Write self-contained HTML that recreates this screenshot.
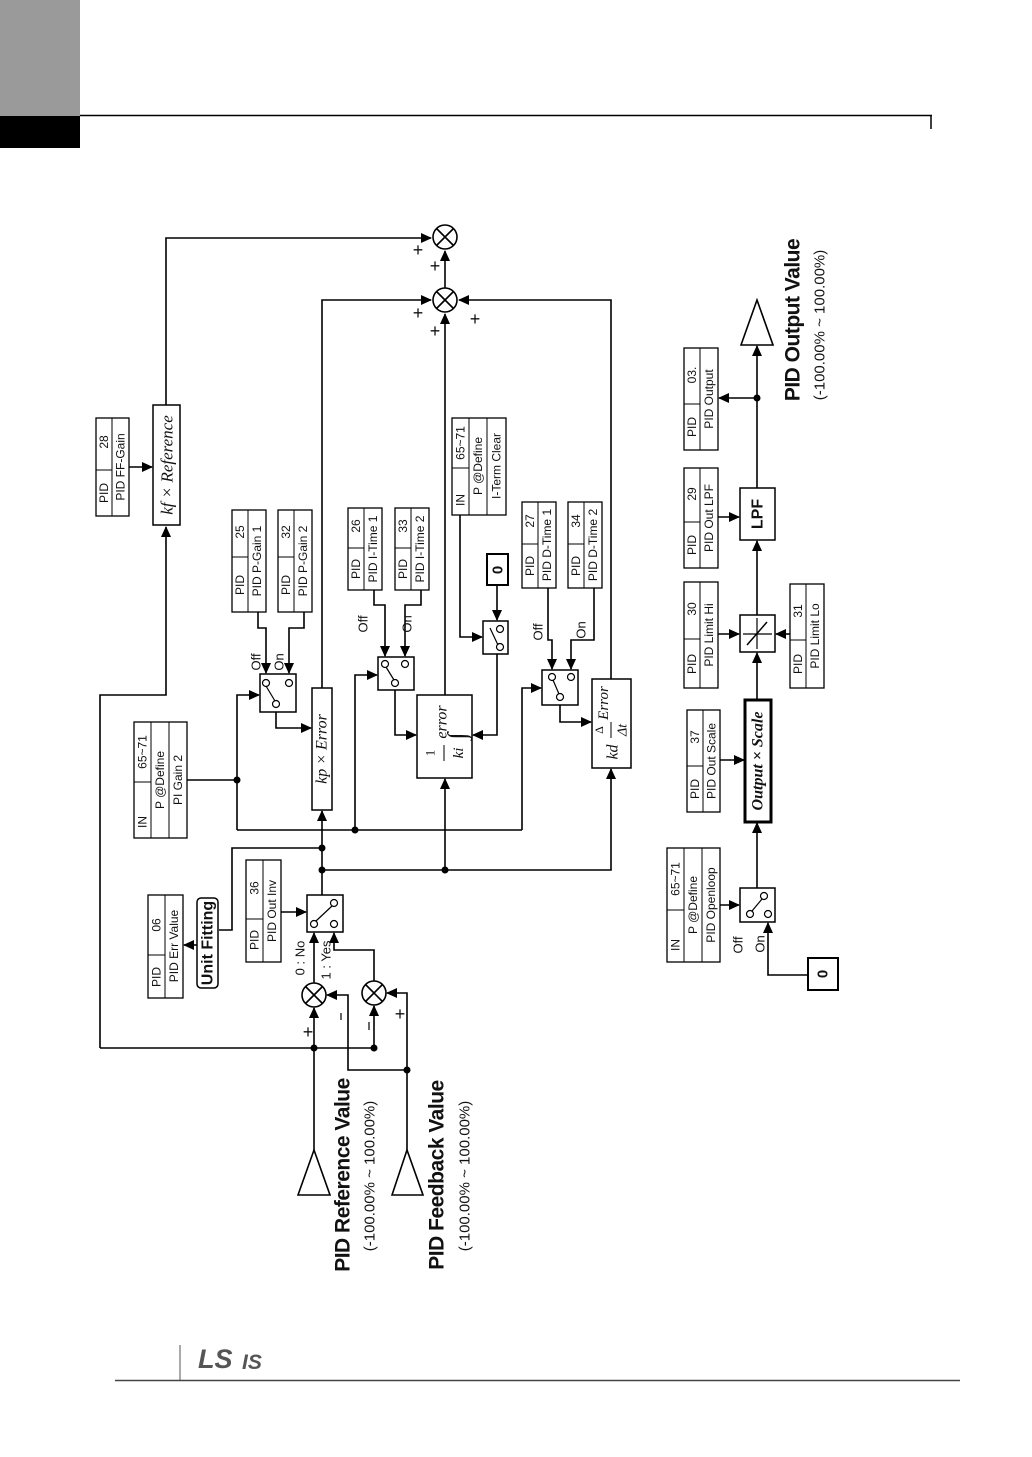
<!DOCTYPE html>
<html><head><meta charset="utf-8"><style>
html,body{margin:0;padding:0;background:#fff}
svg{display:block}
text{font-family:"Liberation Sans Narrow","Liberation Sans",sans-serif;fill:#111}
.s text{font-family:"Liberation Serif",serif;font-style:italic}
.w text{font-family:"Liberation Sans",sans-serif}
</style></head><body>
<svg width="1032" height="1457" viewBox="0 0 1032 1457" xmlns="http://www.w3.org/2000/svg">
<defs>
<marker id="a" markerUnits="userSpaceOnUse" markerWidth="11" markerHeight="10" refX="10" refY="5" orient="auto"><path d="M0,0 L11,5 L0,10 z" fill="#000"/></marker>
</defs>
<rect x="0" y="0" width="80" height="116" fill="#9a9a9a"/>
<rect x="0" y="116" width="80" height="32" fill="#000"/>
<line x1="80" y1="115.5" x2="932" y2="115.5" stroke="#000" stroke-width="1.5"/>
<line x1="931" y1="115" x2="931" y2="129" stroke="#000" stroke-width="1.5"/>
<line x1="180" y1="1345" x2="180" y2="1380" stroke="#555" stroke-width="1"/>
<line x1="115" y1="1380.5" x2="960" y2="1380.5" stroke="#444" stroke-width="1.5"/>
<g class="w">
<text x="198" y="1368" style="font-weight:bold;font-style:italic;font-size:27px;fill:#555">LS</text>
<text x="242" y="1369" style="font-weight:bold;font-style:italic;font-size:21px;fill:#555">IS</text>
</g>

<g fill="none" stroke="#000" stroke-width="1.6">
<circle cx="445" cy="237" r="12"/><path d="M437,229 L453,245 M453,229 L437,245"/>
<circle cx="445" cy="300" r="12"/><path d="M437,292 L453,308 M453,292 L437,308"/>
<path d="M445,288 L445,251" marker-end="url(#a)"/>
<path d="M100,1048 L100,695 L166,695 L166,527" marker-end="url(#a)"/>
<path d="M166,405 L166,238 L431,238" marker-end="url(#a)"/>
<path d="M129,467 L152,467" marker-end="url(#a)"/>
<path d="M322,688 L322,300 L431,300" marker-end="url(#a)"/>
<path d="M445,695 L445,314" marker-end="url(#a)"/>
<path d="M611,679 L611,300 L459,300" marker-end="url(#a)"/>
<path d="M187,780 L237,780"/>
<path d="M237,830 L237,695 L259,695" marker-end="url(#a)"/>
<path d="M237,830 L522,830"/>
<path d="M355,830 L355,675 L377,675" marker-end="url(#a)"/>
<path d="M522,830 L522,688 L541,688" marker-end="url(#a)"/>
<path d="M258,612 L258,628 L266,628 L266,673" marker-end="url(#a)"/>
<path d="M304,612 L304,628 L289,628 L289,673" marker-end="url(#a)"/>
<path d="M276,712 L276,728 L311,728" marker-end="url(#a)"/>
<path d="M374,590 L374,605 L385,605 L385,656" marker-end="url(#a)"/>
<path d="M421,590 L421,605 L405,605 L405,656" marker-end="url(#a)"/>
<path d="M395,690 L395,735 L416,735" marker-end="url(#a)"/>
<path d="M460,515 L460,637 L482,637" marker-end="url(#a)"/>
<path d="M497,585 L497,620" marker-end="url(#a)"/>
<path d="M497,654 L497,735 L473,735" marker-end="url(#a)"/>
<path d="M548,588 L548,640 L552,640 L552,669" marker-end="url(#a)"/>
<path d="M594,588 L594,640 L571,640 L571,669" marker-end="url(#a)"/>
<path d="M560,705 L560,722 L591,722" marker-end="url(#a)"/>
<path d="M322,895 L322,811" marker-end="url(#a)"/>
<path d="M322,848 L232,848 L232,930 L219,930"/>
<path d="M197,945 L184,945" marker-end="url(#a)"/>
<path d="M322,870 L611,870 L611,769" marker-end="url(#a)"/>
<path d="M445,870 L445,779" marker-end="url(#a)"/>
<path d="M281,912 L306,912" marker-end="url(#a)"/>
<circle cx="314" cy="995" r="12"/><path d="M306,987 L322,1003 M322,987 L306,1003"/>
<circle cx="374" cy="993" r="12"/><path d="M366,985 L382,1001 M382,985 L366,1001"/>
<path d="M314,983 L314,933" marker-end="url(#a)"/>
<path d="M374,981 L374,950 L334,950 L334,933" marker-end="url(#a)"/>
<path d="M314,1150 L314,1008" marker-end="url(#a)"/>
<path d="M100,1048 L374,1048 L374,1006" marker-end="url(#a)"/>
<path d="M407,1150 L407,993 L387,993" marker-end="url(#a)"/>
<path d="M407,1070 L348,1070 L348,995 L327,995" marker-end="url(#a)"/>
<path d="M298,1195 L314,1150 L330,1195 z"/>
<path d="M392,1195 L407,1150 L423,1195 z"/>
<path d="M808,975 L768,975 L768,923" marker-end="url(#a)"/>
<path d="M720,905 L739,905" marker-end="url(#a)"/>
<path d="M757,888 L757,823" marker-end="url(#a)"/>
<path d="M720,760 L744,760" marker-end="url(#a)"/>
<path d="M757,700 L757,653" marker-end="url(#a)"/>
<path d="M718,634 L739,634" marker-end="url(#a)"/>
<path d="M790,634 L776,634" marker-end="url(#a)"/>
<path d="M757,615 L757,541" marker-end="url(#a)"/>
<path d="M718,517 L739,517" marker-end="url(#a)"/>
<path d="M757,488 L757,346" marker-end="url(#a)"/>
<path d="M757,398 L719,398" marker-end="url(#a)"/>
<path d="M741,345 L757,300 L773,345 z"/>
</g>
<g fill="#000">
<circle cx="237" cy="780" r="3.5"/><circle cx="355" cy="830" r="3.5"/>
<circle cx="322" cy="848" r="3.5"/><circle cx="322" cy="870" r="3.5"/><circle cx="445" cy="870" r="3.5"/>
<circle cx="314" cy="1048" r="3.5"/><circle cx="374" cy="1048" r="3.5"/><circle cx="407" cy="1070" r="3.5"/>
<circle cx="757" cy="398" r="3.5"/>
</g>

<g fill="#fff" stroke="#000" stroke-width="1.5">
<rect x="153" y="405" width="27" height="120"/>
<rect x="312" y="688" width="20" height="122"/>
<rect x="417" y="695" width="55" height="83"/>
<rect x="592" y="679" width="39" height="89"/>
<rect x="487" y="554" width="21" height="31" stroke-width="2"/>
<rect x="808" y="958" width="30" height="32" stroke-width="2"/>
<rect x="745" y="700" width="26" height="122" stroke-width="3"/>
<rect x="740" y="488" width="35" height="52"/>
<rect x="740" y="615" width="35" height="37"/>
<rect x="197" y="898" width="21" height="90" rx="4"/>
<rect x="260" y="674" width="36" height="38"/>
<rect x="378" y="657" width="36" height="33"/>
<rect x="483" y="621" width="25" height="33"/>
<rect x="542" y="670" width="36" height="35"/>
<rect x="307" y="895" width="36" height="37"/>
<rect x="740" y="888" width="35" height="34"/>
</g>
<g fill="#fff" stroke="#000" stroke-width="1.2">
<circle cx="266" cy="683" r="3.5"/><circle cx="289" cy="683" r="3.5"/><circle cx="276" cy="704" r="3.5"/>
<line x1="266" y1="686" x2="275" y2="701"/>
<circle cx="385" cy="664" r="3.5"/><circle cx="405" cy="664" r="3.5"/><circle cx="395" cy="683" r="3.5"/>
<line x1="386" y1="667" x2="394" y2="680"/>
<circle cx="500" cy="629" r="3.5"/><circle cx="500" cy="647" r="3.5"/><line x1="490" y1="628" x2="498" y2="645"/>
<circle cx="552" cy="677" r="3.5"/><circle cx="571" cy="677" r="3.5"/><circle cx="560" cy="697" r="3.5"/>
<line x1="553" y1="680" x2="559" y2="694"/>
<circle cx="334" cy="903" r="3.5"/><circle cx="314" cy="924" r="3.5"/><circle cx="334" cy="924" r="3.5"/>
<line x1="332" y1="906" x2="316" y2="921"/>
<circle cx="764" cy="896" r="3.5"/><circle cx="768" cy="914" r="3.5"/><circle cx="750" cy="914" r="3.5"/>
<line x1="752" y1="911" x2="762" y2="899"/>
<line x1="743" y1="634" x2="772" y2="634"/><line x1="757" y1="618" x2="757" y2="649"/>
<line x1="747" y1="645" x2="767" y2="622" stroke-width="1.5"/>
</g>

<g class="s" style="font-size:17px">
<text transform="translate(167,465) rotate(-90)" text-anchor="middle" dominant-baseline="central">kf × Reference</text>
<text transform="translate(322,749) rotate(-90)" text-anchor="middle" dominant-baseline="central" style="font-size:16px">kp × Error</text>
<text transform="translate(442,722) rotate(-90)" text-anchor="middle" dominant-baseline="central" style="font-size:16px">error</text>
<text transform="translate(430,753) rotate(-90)" text-anchor="middle" dominant-baseline="central" style="font-size:13px;font-style:normal">1</text>
<text transform="translate(459,753) rotate(-90)" text-anchor="middle" dominant-baseline="central" style="font-size:15px">ki</text>
<text transform="translate(457,736) rotate(-90)" text-anchor="middle" dominant-baseline="central" style="font-size:26px;font-style:normal">∫</text>
<text transform="translate(604,703) rotate(-90)" text-anchor="middle" dominant-baseline="central" style="font-size:15px">Error</text>
<text transform="translate(613,752) rotate(-90)" text-anchor="middle" dominant-baseline="central" style="font-size:16px">kd</text>
<text transform="translate(599,730) rotate(-90)" text-anchor="middle" dominant-baseline="central" style="font-size:12px;font-style:normal">Δ</text>
<text transform="translate(623,730) rotate(-90)" text-anchor="middle" dominant-baseline="central" style="font-size:14px">Δt</text>
<text transform="translate(758,761) rotate(-90)" text-anchor="middle" dominant-baseline="central" style="font-size:16px;font-weight:bold">Output × Scale</text>
</g>
<line x1="444" y1="745" x2="444" y2="761" stroke="#000"/>
<line x1="611" y1="722" x2="611" y2="738" stroke="#000"/>
<g style="font-weight:bold">
<text transform="translate(758,514) rotate(-90)" text-anchor="middle" dominant-baseline="central" style="font-size:16px">LPF</text>
<text transform="translate(208,943) rotate(-90)" text-anchor="middle" dominant-baseline="central" style="font-size:16px">Unit Fitting</text>
<text transform="translate(498,570) rotate(-90)" text-anchor="middle" dominant-baseline="central" style="font-size:15px">0</text>
<text transform="translate(823,974) rotate(-90)" text-anchor="middle" dominant-baseline="central" style="font-size:15px">0</text>
</g>

<g style="font-size:13px">
<text transform="translate(256,662) rotate(-90)" text-anchor="middle" dominant-baseline="central">Off</text>
<text transform="translate(279,662) rotate(-90)" text-anchor="middle" dominant-baseline="central">On</text>
<text transform="translate(363,624) rotate(-90)" text-anchor="middle" dominant-baseline="central">Off</text>
<text transform="translate(407,624) rotate(-90)" text-anchor="middle" dominant-baseline="central">On</text>
<text transform="translate(538,632) rotate(-90)" text-anchor="middle" dominant-baseline="central">Off</text>
<text transform="translate(581,630) rotate(-90)" text-anchor="middle" dominant-baseline="central">On</text>
<text transform="translate(738,945) rotate(-90)" text-anchor="middle" dominant-baseline="central">Off</text>
<text transform="translate(760,944) rotate(-90)" text-anchor="middle" dominant-baseline="central">On</text>
<text transform="translate(300,958) rotate(-90)" text-anchor="middle" dominant-baseline="central">0 : No</text>
<text transform="translate(326,960) rotate(-90)" text-anchor="middle" dominant-baseline="central">1 : Yes</text>
</g>
<g class="w" style="font-size:18px">
<text x="418" y="256" text-anchor="middle">+</text>
<text x="435" y="272" text-anchor="middle">+</text>
<text x="418" y="319" text-anchor="middle">+</text>
<text x="435" y="337" text-anchor="middle">+</text>
<text x="475" y="325" text-anchor="middle">+</text>
<text x="308" y="1038" text-anchor="middle">+</text>
<text x="400" y="1020" text-anchor="middle">+</text>
</g>
<g stroke="#000" stroke-width="1.2"><line x1="341" y1="1013" x2="341" y2="1020"/><line x1="369" y1="1022" x2="369" y2="1030"/></g>

<g class="w">
<text transform="translate(343,1175) rotate(-90)" text-anchor="middle" dominant-baseline="central" style="font-size:21px;font-weight:bold;letter-spacing:-0.5px">PID Reference Value</text>
<text transform="translate(370,1176) rotate(-90)" text-anchor="middle" dominant-baseline="central" style="font-size:15px">(-100.00% ~ 100.00%)</text>
<text transform="translate(437,1175) rotate(-90)" text-anchor="middle" dominant-baseline="central" style="font-size:21px;font-weight:bold;letter-spacing:-0.5px">PID Feedback Value</text>
<text transform="translate(465,1176) rotate(-90)" text-anchor="middle" dominant-baseline="central" style="font-size:15px">(-100.00% ~ 100.00%)</text>
<text transform="translate(793,320) rotate(-90)" text-anchor="middle" dominant-baseline="central" style="font-size:21px;font-weight:bold;letter-spacing:-0.5px">PID Output Value</text>
<text transform="translate(820,325) rotate(-90)" text-anchor="middle" dominant-baseline="central" style="font-size:15px">(-100.00% ~ 100.00%)</text>
</g>

<g style="font-size:12px">
<g transform="translate(96,418)"><rect width="33" height="98" fill="#fff" stroke="#000" stroke-width="1.3"/><line x1="16" y1="0" x2="16" y2="98" stroke="#000"/><line x1="0" y1="52" x2="16" y2="52" stroke="#000"/><text transform="translate(8,75) rotate(-90)" text-anchor="middle" dominant-baseline="central">PID</text><text transform="translate(8,24) rotate(-90)" text-anchor="middle" dominant-baseline="central">28</text><text transform="translate(24.5,49) rotate(-90)" text-anchor="middle" dominant-baseline="central">PID FF-Gain</text></g>
<g transform="translate(232,510)"><rect width="34" height="102" fill="#fff" stroke="#000" stroke-width="1.3"/><line x1="16" y1="0" x2="16" y2="102" stroke="#000"/><line x1="0" y1="47" x2="16" y2="47" stroke="#000"/><text transform="translate(8,75) rotate(-90)" text-anchor="middle" dominant-baseline="central">PID</text><text transform="translate(8,22) rotate(-90)" text-anchor="middle" dominant-baseline="central">25</text><text transform="translate(25,51) rotate(-90)" text-anchor="middle" dominant-baseline="central">PID P-Gain 1</text></g>
<g transform="translate(278,510)"><rect width="34" height="102" fill="#fff" stroke="#000" stroke-width="1.3"/><line x1="16" y1="0" x2="16" y2="102" stroke="#000"/><line x1="0" y1="47" x2="16" y2="47" stroke="#000"/><text transform="translate(8,75) rotate(-90)" text-anchor="middle" dominant-baseline="central">PID</text><text transform="translate(8,22) rotate(-90)" text-anchor="middle" dominant-baseline="central">32</text><text transform="translate(25,51) rotate(-90)" text-anchor="middle" dominant-baseline="central">PID P-Gain 2</text></g>
<g transform="translate(348,508)"><rect width="34" height="82" fill="#fff" stroke="#000" stroke-width="1.3"/><line x1="16" y1="0" x2="16" y2="82" stroke="#000"/><line x1="0" y1="40" x2="16" y2="40" stroke="#000"/><text transform="translate(8,61) rotate(-90)" text-anchor="middle" dominant-baseline="central">PID</text><text transform="translate(8,18) rotate(-90)" text-anchor="middle" dominant-baseline="central">26</text><text transform="translate(25,41) rotate(-90)" text-anchor="middle" dominant-baseline="central">PID I-Time 1</text></g>
<g transform="translate(395,508)"><rect width="34" height="82" fill="#fff" stroke="#000" stroke-width="1.3"/><line x1="16" y1="0" x2="16" y2="82" stroke="#000"/><line x1="0" y1="40" x2="16" y2="40" stroke="#000"/><text transform="translate(8,61) rotate(-90)" text-anchor="middle" dominant-baseline="central">PID</text><text transform="translate(8,18) rotate(-90)" text-anchor="middle" dominant-baseline="central">33</text><text transform="translate(25,41) rotate(-90)" text-anchor="middle" dominant-baseline="central">PID I-Time 2</text></g>
<g transform="translate(522,502)"><rect width="34" height="86" fill="#fff" stroke="#000" stroke-width="1.3"/><line x1="16" y1="0" x2="16" y2="86" stroke="#000"/><line x1="0" y1="42" x2="16" y2="42" stroke="#000"/><text transform="translate(8,64) rotate(-90)" text-anchor="middle" dominant-baseline="central">PID</text><text transform="translate(8,19) rotate(-90)" text-anchor="middle" dominant-baseline="central">27</text><text transform="translate(25,43) rotate(-90)" text-anchor="middle" dominant-baseline="central">PID D-Time 1</text></g>
<g transform="translate(568,502)"><rect width="34" height="86" fill="#fff" stroke="#000" stroke-width="1.3"/><line x1="16" y1="0" x2="16" y2="86" stroke="#000"/><line x1="0" y1="42" x2="16" y2="42" stroke="#000"/><text transform="translate(8,64) rotate(-90)" text-anchor="middle" dominant-baseline="central">PID</text><text transform="translate(8,19) rotate(-90)" text-anchor="middle" dominant-baseline="central">34</text><text transform="translate(25,43) rotate(-90)" text-anchor="middle" dominant-baseline="central">PID D-Time 2</text></g>
<g transform="translate(246,860)"><rect width="35" height="102" fill="#fff" stroke="#000" stroke-width="1.3"/><line x1="17" y1="0" x2="17" y2="102" stroke="#000"/><line x1="0" y1="59" x2="17" y2="59" stroke="#000"/><text transform="translate(8.5,80) rotate(-90)" text-anchor="middle" dominant-baseline="central">PID</text><text transform="translate(8.5,28) rotate(-90)" text-anchor="middle" dominant-baseline="central">36</text><text transform="translate(26,51) rotate(-90)" text-anchor="middle" dominant-baseline="central">PID Out Inv</text></g>
<g transform="translate(148,895)"><rect width="35" height="103" fill="#fff" stroke="#000" stroke-width="1.3"/><line x1="17" y1="0" x2="17" y2="103" stroke="#000"/><line x1="0" y1="60" x2="17" y2="60" stroke="#000"/><text transform="translate(8.5,82) rotate(-90)" text-anchor="middle" dominant-baseline="central">PID</text><text transform="translate(8.5,30) rotate(-90)" text-anchor="middle" dominant-baseline="central">06</text><text transform="translate(26,51) rotate(-90)" text-anchor="middle" dominant-baseline="central">PID Err Value</text></g>
<g transform="translate(687,710)"><rect width="33" height="102" fill="#fff" stroke="#000" stroke-width="1.3"/><line x1="16" y1="0" x2="16" y2="102" stroke="#000"/><line x1="0" y1="56" x2="16" y2="56" stroke="#000"/><text transform="translate(8,79) rotate(-90)" text-anchor="middle" dominant-baseline="central">PID</text><text transform="translate(8,27) rotate(-90)" text-anchor="middle" dominant-baseline="central">37</text><text transform="translate(24.5,51) rotate(-90)" text-anchor="middle" dominant-baseline="central">PID Out Scale</text></g>
<g transform="translate(684,582)"><rect width="34" height="106" fill="#fff" stroke="#000" stroke-width="1.3"/><line x1="16" y1="0" x2="16" y2="106" stroke="#000"/><line x1="0" y1="57" x2="16" y2="57" stroke="#000"/><text transform="translate(8,82) rotate(-90)" text-anchor="middle" dominant-baseline="central">PID</text><text transform="translate(8,27) rotate(-90)" text-anchor="middle" dominant-baseline="central">30</text><text transform="translate(25,53) rotate(-90)" text-anchor="middle" dominant-baseline="central">PID Limit Hi</text></g>
<g transform="translate(790,584)"><rect width="34" height="104" fill="#fff" stroke="#000" stroke-width="1.3"/><line x1="16" y1="0" x2="16" y2="104" stroke="#000"/><line x1="0" y1="56" x2="16" y2="56" stroke="#000"/><text transform="translate(8,80) rotate(-90)" text-anchor="middle" dominant-baseline="central">PID</text><text transform="translate(8,27) rotate(-90)" text-anchor="middle" dominant-baseline="central">31</text><text transform="translate(25,52) rotate(-90)" text-anchor="middle" dominant-baseline="central">PID Limit Lo</text></g>
<g transform="translate(684,468)"><rect width="34" height="100" fill="#fff" stroke="#000" stroke-width="1.3"/><line x1="16" y1="0" x2="16" y2="100" stroke="#000"/><line x1="0" y1="54" x2="16" y2="54" stroke="#000"/><text transform="translate(8,77) rotate(-90)" text-anchor="middle" dominant-baseline="central">PID</text><text transform="translate(8,26) rotate(-90)" text-anchor="middle" dominant-baseline="central">29</text><text transform="translate(25,50) rotate(-90)" text-anchor="middle" dominant-baseline="central">PID Out LPF</text></g>
<g transform="translate(684,348)"><rect width="34" height="102" fill="#fff" stroke="#000" stroke-width="1.3"/><line x1="16" y1="0" x2="16" y2="102" stroke="#000"/><line x1="0" y1="56" x2="16" y2="56" stroke="#000"/><text transform="translate(8,79) rotate(-90)" text-anchor="middle" dominant-baseline="central">PID</text><text transform="translate(8,27) rotate(-90)" text-anchor="middle" dominant-baseline="central">03.</text><text transform="translate(25,51) rotate(-90)" text-anchor="middle" dominant-baseline="central">PID Output</text></g>
<g transform="translate(134,722)"><rect width="53" height="116" fill="#fff" stroke="#000" stroke-width="1.3"/><line x1="17" y1="0" x2="17" y2="116" stroke="#000"/><line x1="35" y1="0" x2="35" y2="116" stroke="#000"/><line x1="0" y1="60" x2="17" y2="60" stroke="#000"/><text transform="translate(8.5,100) rotate(-90)" text-anchor="middle" dominant-baseline="central">IN</text><text transform="translate(8.5,30) rotate(-90)" text-anchor="middle" dominant-baseline="central">65~71</text><text transform="translate(26,58) rotate(-90)" text-anchor="middle" dominant-baseline="central">P @Define</text><text transform="translate(44,58) rotate(-90)" text-anchor="middle" dominant-baseline="central">PI Gain 2</text></g>
<g transform="translate(452,418)"><rect width="54" height="97" fill="#fff" stroke="#000" stroke-width="1.3"/><line x1="17" y1="0" x2="17" y2="97" stroke="#000"/><line x1="35" y1="0" x2="35" y2="97" stroke="#000"/><line x1="0" y1="50" x2="17" y2="50" stroke="#000"/><text transform="translate(8.5,82) rotate(-90)" text-anchor="middle" dominant-baseline="central">IN</text><text transform="translate(8.5,25) rotate(-90)" text-anchor="middle" dominant-baseline="central">65~71</text><text transform="translate(26,48) rotate(-90)" text-anchor="middle" dominant-baseline="central">P @Define</text><text transform="translate(44.5,48) rotate(-90)" text-anchor="middle" dominant-baseline="central">I-Term Clear</text></g>
<g transform="translate(667,848)"><rect width="53" height="114" fill="#fff" stroke="#000" stroke-width="1.3"/><line x1="17" y1="0" x2="17" y2="114" stroke="#000"/><line x1="35" y1="0" x2="35" y2="114" stroke="#000"/><line x1="0" y1="62" x2="17" y2="62" stroke="#000"/><text transform="translate(8.5,97) rotate(-90)" text-anchor="middle" dominant-baseline="central">IN</text><text transform="translate(8.5,31) rotate(-90)" text-anchor="middle" dominant-baseline="central">65~71</text><text transform="translate(26,57) rotate(-90)" text-anchor="middle" dominant-baseline="central">P @Define</text><text transform="translate(44,57) rotate(-90)" text-anchor="middle" dominant-baseline="central">PID Openloop</text></g>
</g>
</svg>
</body></html>
